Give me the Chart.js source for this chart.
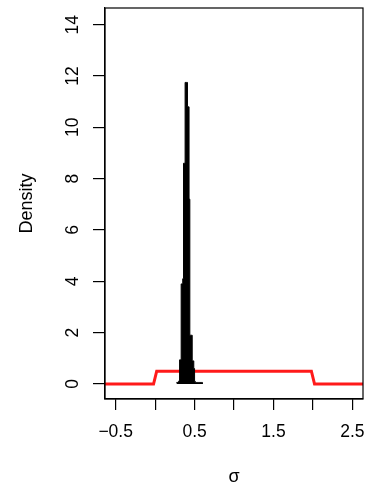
<!DOCTYPE html>
<html>
<head>
<meta charset="utf-8">
<script src="https://cdn.jsdelivr.net/npm/chart.js@4"></script>
<style>
  html, body { margin: 0; padding: 0; background: #fff; }
  #wrap { width: 375px; height: 490px; }
</style>
</head>
<body>
<div id="wrap"><canvas id="chart"></canvas></div>
<script>
// Posterior histogram of sigma (bin left edges, density)
const histEdges = [0.27, 0.28, 0.29, 0.30, 0.31, 0.32, 0.33, 0.34, 0.35, 0.36, 0.37,
  0.38, 0.39, 0.40, 0.41, 0.42, 0.43, 0.44, 0.45, 0.46, 0.47, 0.48, 0.49, 0.50,
  0.51, 0.52, 0.53, 0.54, 0.55, 0.56, 0.57, 0.58, 0.59, 0.60];
const histDensity = [0.06, 0.06, 0.08, 0.12, 0.94, 0.94, 3.9, 3.9, 4.1, 8.6, 8.6,
  11.75, 11.75, 11.75, 10.8, 10.8, 7.2, 1.9, 1.9, 1.9, 0.9, 0.9, 0.6, 0.1,
  0.06, 0.06, 0.06, 0.06, 0.06, 0.06, 0.06, 0.06, 0.06, 0];

// Uniform(0, 2) prior curve
const priorX = [-0.8, -0.02, 0.02, 1.98, 2.02, 2.8];
const priorY = [0, 0, 0.5, 0.5, 0, 0];

// Axis ticks
const xTicks = [-0.5, 0, 0.5, 1, 1.5, 2, 2.5];
const xTickLabels = ['\u22120.5', '', '0.5', '', '1.5', '', '2.5'];
const yTicks = [0, 2, 4, 6, 8, 10, 12, 14];

const FONT = '"Liberation Sans", Arial, Helvetica, sans-serif';

// R-style box around the plot region
const boxPlugin = {
  id: 'box',
  afterDraw(chart) {
    const { ctx, chartArea: a } = chart;
    ctx.save();
    ctx.strokeStyle = '#000';
    ctx.lineWidth = 1.2;
    ctx.strokeRect(a.left, a.top, a.right - a.left, a.bottom - a.top);
    ctx.restore();
  }
};

const ctx = document.getElementById('chart').getContext('2d');
new Chart(ctx, {
  type: 'line',
  data: {
    datasets: [
      {
        label: 'posterior',
        data: histEdges.map((x, i) => ({ x, y: histDensity[i] })),
        stepped: 'before',
        borderColor: '#000',
        backgroundColor: '#000',
        borderWidth: 1,
        fill: 'origin',
        pointRadius: 0,
        order: 0
      },
      {
        label: 'prior',
        data: priorX.map((x, i) => ({ x, y: priorY[i] })),
        borderColor: '#ff1a1a',
        borderWidth: 3,
        fill: false,
        tension: 0,
        pointRadius: 0,
        order: 1
      }
    ]
  },
  options: {
    responsive: true,
    maintainAspectRatio: false,
    animation: false,
    layout: { padding: { top: 8, right: 12, left: 0, bottom: 0 } },
    plugins: { legend: { display: false }, tooltip: { enabled: false } },
    scales: {
      x: {
        type: 'linear',
        min: -0.635,
        max: 2.634,
        afterBuildTicks(scale) { scale.ticks = xTicks.map(v => ({ value: v })); },
        afterFit(scale) {
          scale.height = 91;
          scale.paddingLeft = 0;
          scale.paddingRight = 0;
        },
        ticks: {
          autoSkip: false,
          maxRotation: 0,
          padding: 12,
          color: '#000',
          font: { family: FONT, size: 17.5 },
          callback: (v, i) => xTickLabels[i]
        },
        grid: { drawOnChartArea: false, drawTicks: true, tickLength: 11, color: '#000', lineWidth: 1.2 },
        border: { display: true, color: '#000', width: 1.2 },
        title: {
          display: true,
          text: '\u03c3',
          color: '#000',
          font: { family: FONT, size: 18 },
          padding: { top: 0, bottom: 2 }
        }
      },
      y: {
        min: -0.585,
        max: 14.65,
        afterBuildTicks(scale) { scale.ticks = yTicks.map(v => ({ value: v })); },
        afterFit(scale) {
          scale.width = 105;
          scale.paddingTop = 0;
          scale.paddingBottom = 0;
        },
        ticks: {
          autoSkip: false,
          minRotation: 90,
          maxRotation: 90,
          crossAlign: 'center',
          padding: 10,
          color: '#000',
          font: { family: FONT, size: 17.5 }
        },
        grid: { drawOnChartArea: false, drawTicks: true, tickLength: 12, color: '#000', lineWidth: 1.2 },
        border: { display: true, color: '#000', width: 1.2 },
        title: {
          display: true,
          text: 'Density',
          color: '#000',
          font: { family: FONT, size: 18 },
          padding: { top: 16, bottom: 0 }
        }
      }
    }
  },
  plugins: [boxPlugin]
});
</script>
</body>
</html>
